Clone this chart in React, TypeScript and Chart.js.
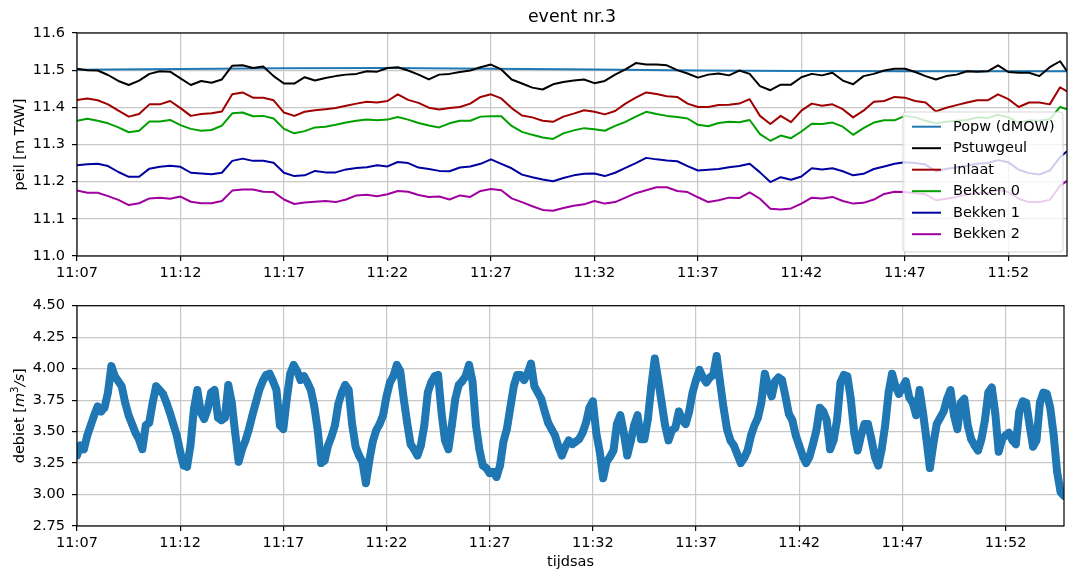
import { useEffect, useRef } from "react";
import { Chart, registerables } from "chart.js";
import type { Plugin } from "chart.js";

Chart.register(...registerables);

// ---------- tijdsas (seconden na 11:07:00) ----------
const TIJD_MAX = 2870;
const tijdTicks = [0, 300, 600, 900, 1200, 1500, 1800, 2100, 2400, 2700];
const tijdLabels = ["11:07", "11:12", "11:17", "11:22", "11:27", "11:32", "11:37", "11:42", "11:47", "11:52"];

// ---------- peil [m TAW] ----------
const peilTicks = [11.0, 11.1, 11.2, 11.3, 11.4, 11.5, 11.6];
const PEIL_STAP = 30; // één waarde per 30 s

const popwTijd = [0, 300, 600, 900, 1200, 1500, 1800, 2100, 2400, 2700, 2870];
const popw = [11.501, 11.503, 11.505, 11.506, 11.504, 11.502, 11.499, 11.498, 11.497, 11.497, 11.497];

const pstuwgeul = [
  11.504, 11.500, 11.499, 11.487, 11.471, 11.460, 11.472, 11.490, 11.497, 11.496,
  11.478, 11.460, 11.471, 11.466, 11.475, 11.512, 11.513, 11.506, 11.510, 11.484,
  11.464, 11.464, 11.481, 11.472, 11.479, 11.484, 11.488, 11.490, 11.497, 11.496,
  11.506, 11.508, 11.499, 11.488, 11.475, 11.488, 11.490, 11.495, 11.499, 11.508,
  11.515, 11.502, 11.475, 11.464, 11.453, 11.448, 11.462, 11.468, 11.472, 11.475,
  11.465, 11.471, 11.488, 11.502, 11.519, 11.515, 11.515, 11.513, 11.500, 11.491,
  11.480, 11.488, 11.491, 11.486, 11.499, 11.490, 11.457, 11.446, 11.461, 11.461,
  11.481, 11.490, 11.486, 11.493, 11.472, 11.462, 11.484, 11.490, 11.499, 11.504,
  11.504, 11.495, 11.484, 11.475, 11.484, 11.488, 11.497, 11.496, 11.497, 11.513,
  11.495, 11.493, 11.493, 11.484, 11.508, 11.524, 11.497,
];

const inlaat = [
  11.420, 11.424, 11.419, 11.408, 11.391, 11.375, 11.382, 11.408, 11.408, 11.417,
  11.398, 11.377, 11.382, 11.384, 11.389, 11.435, 11.440, 11.426, 11.426, 11.419,
  11.386, 11.377, 11.388, 11.392, 11.395, 11.398, 11.404, 11.410, 11.415, 11.413,
  11.417, 11.435, 11.420, 11.412, 11.399, 11.394, 11.398, 11.401, 11.410, 11.428,
  11.435, 11.424, 11.398, 11.378, 11.373, 11.364, 11.361, 11.375, 11.383, 11.392,
  11.388, 11.381, 11.390, 11.410, 11.426, 11.440, 11.436, 11.430, 11.428, 11.410,
  11.401, 11.401, 11.406, 11.407, 11.410, 11.422, 11.377, 11.355, 11.377, 11.360,
  11.391, 11.410, 11.404, 11.408, 11.395, 11.373, 11.391, 11.415, 11.417, 11.428,
  11.426, 11.417, 11.413, 11.389, 11.399, 11.406, 11.413, 11.419, 11.419, 11.435,
  11.422, 11.401, 11.413, 11.413, 11.408, 11.454, 11.443,
];

const bekken0 = [
  11.364, 11.369, 11.364, 11.357, 11.346, 11.333, 11.337, 11.362, 11.362, 11.366,
  11.352, 11.342, 11.337, 11.339, 11.351, 11.384, 11.386, 11.376, 11.377, 11.370,
  11.342, 11.330, 11.336, 11.346, 11.348, 11.353, 11.359, 11.364, 11.367, 11.365,
  11.367, 11.374, 11.367, 11.358, 11.351, 11.346, 11.357, 11.364, 11.364, 11.375,
  11.376, 11.376, 11.350, 11.334, 11.326, 11.319, 11.315, 11.330, 11.338, 11.344,
  11.341, 11.337, 11.350, 11.361, 11.375, 11.388, 11.382, 11.377, 11.374, 11.370,
  11.353, 11.349, 11.358, 11.361, 11.360, 11.366, 11.328, 11.310, 11.324, 11.317,
  11.335, 11.356, 11.355, 11.359, 11.348, 11.326, 11.344, 11.359, 11.365, 11.365,
  11.377, 11.373, 11.364, 11.357, 11.361, 11.364, 11.366, 11.373, 11.371, 11.380,
  11.373, 11.359, 11.365, 11.364, 11.368, 11.401, 11.395,
];

const bekken1 = [
  11.244, 11.247, 11.248, 11.242, 11.226, 11.213, 11.213, 11.235, 11.240, 11.243,
  11.240, 11.224, 11.222, 11.220, 11.224, 11.256, 11.262, 11.256, 11.256, 11.251,
  11.224, 11.215, 11.217, 11.229, 11.225, 11.225, 11.233, 11.237, 11.239, 11.244,
  11.241, 11.253, 11.250, 11.238, 11.234, 11.229, 11.228, 11.238, 11.241, 11.248,
  11.260, 11.248, 11.236, 11.219, 11.212, 11.206, 11.201, 11.210, 11.217, 11.221,
  11.222, 11.215, 11.224, 11.237, 11.250, 11.264, 11.260, 11.257, 11.255, 11.242,
  11.230, 11.232, 11.234, 11.239, 11.242, 11.248, 11.225, 11.199, 11.212, 11.205,
  11.214, 11.236, 11.233, 11.236, 11.228, 11.217, 11.221, 11.234, 11.241, 11.248,
  11.252, 11.250, 11.246, 11.228, 11.234, 11.239, 11.243, 11.248, 11.250, 11.258,
  11.252, 11.232, 11.223, 11.219, 11.230, 11.266, 11.282,
];

const bekken2 = [
  11.176, 11.170, 11.170, 11.161, 11.151, 11.137, 11.142, 11.155, 11.157, 11.154,
  11.160, 11.146, 11.142, 11.142, 11.148, 11.176, 11.179, 11.179, 11.173, 11.172,
  11.152, 11.140, 11.144, 11.146, 11.148, 11.145, 11.152, 11.163, 11.165, 11.161,
  11.166, 11.175, 11.173, 11.164, 11.159, 11.160, 11.152, 11.163, 11.159, 11.175,
  11.180, 11.177, 11.155, 11.145, 11.134, 11.124, 11.122, 11.129, 11.135, 11.139,
  11.148, 11.141, 11.145, 11.157, 11.169, 11.177, 11.185, 11.185, 11.175, 11.172,
  11.158, 11.145, 11.150, 11.157, 11.156, 11.171, 11.154, 11.127, 11.125, 11.128,
  11.141, 11.157, 11.155, 11.159, 11.148, 11.141, 11.143, 11.152, 11.167, 11.173,
  11.172, 11.169, 11.166, 11.150, 11.154, 11.159, 11.166, 11.169, 11.169, 11.178,
  11.172, 11.154, 11.145, 11.145, 11.151, 11.189, 11.202,
];

// ---------- debiet [m³/s] ----------
const debietTicks = [2.75, 3.0, 3.25, 3.5, 3.75, 4.0, 4.25, 4.5];
const DEBIET_STAP = 10; // één waarde per 10 s

const debiet = [
  3.31, 3.39, 3.36, 3.47, 3.55, 3.63, 3.70, 3.66, 3.69, 3.81, 4.02, 3.94,
  3.90, 3.86, 3.73, 3.63, 3.56, 3.49, 3.44, 3.36, 3.55, 3.57, 3.73, 3.86,
  3.83, 3.80, 3.73, 3.65, 3.56, 3.47, 3.34, 3.23, 3.22, 3.39, 3.68, 3.83,
  3.65, 3.60, 3.68, 3.81, 3.83, 3.61, 3.59, 3.61, 3.87, 3.73, 3.49, 3.26,
  3.36, 3.43, 3.52, 3.63, 3.73, 3.83, 3.90, 3.95, 3.96, 3.90, 3.83, 3.55,
  3.52, 3.76, 3.96, 4.03, 3.98, 3.91, 3.94, 3.89, 3.83, 3.70, 3.51, 3.25,
  3.27, 3.39, 3.46, 3.55, 3.72, 3.81, 3.87, 3.83, 3.56, 3.38, 3.31, 3.26,
  3.09, 3.27, 3.42, 3.51, 3.56, 3.63, 3.78, 3.89, 3.94, 4.03, 3.98, 3.76,
  3.57, 3.40, 3.36, 3.31, 3.39, 3.55, 3.81, 3.89, 3.94, 3.95, 3.65, 3.43,
  3.36, 3.55, 3.76, 3.87, 3.90, 3.94, 4.03, 3.90, 3.55, 3.36, 3.23, 3.21,
  3.17, 3.18, 3.14, 3.23, 3.42, 3.52, 3.69, 3.86, 3.95, 3.95, 3.91, 3.96,
  4.04, 3.86, 3.81, 3.76, 3.66, 3.57, 3.52, 3.47, 3.38, 3.31, 3.38, 3.43,
  3.40, 3.42, 3.44, 3.49, 3.57, 3.69, 3.74, 3.49, 3.34, 3.13, 3.26, 3.30,
  3.35, 3.56, 3.63, 3.49, 3.31, 3.42, 3.55, 3.63, 3.44, 3.44, 3.60, 3.86,
  4.08, 3.91, 3.73, 3.55, 3.43, 3.51, 3.53, 3.66, 3.59, 3.56, 3.66, 3.81,
  3.91, 3.99, 3.93, 3.89, 3.93, 3.95, 4.10, 3.89, 3.69, 3.52, 3.43, 3.39,
  3.32, 3.25, 3.29, 3.35, 3.47, 3.55, 3.61, 3.73, 3.96, 3.86, 3.78, 3.90,
  3.93, 3.91, 3.78, 3.64, 3.59, 3.47, 3.39, 3.31, 3.25, 3.30, 3.40, 3.51,
  3.69, 3.66, 3.59, 3.36, 3.43, 3.59, 3.89, 3.95, 3.94, 3.76, 3.49, 3.35,
  3.47, 3.56, 3.56, 3.44, 3.30, 3.23, 3.36, 3.55, 3.81, 3.96, 3.86, 3.80,
  3.85, 3.90, 3.77, 3.73, 3.63, 3.83, 3.65, 3.44, 3.21, 3.40, 3.56, 3.61,
  3.66, 3.76, 3.83, 3.63, 3.52, 3.73, 3.76, 3.55, 3.44, 3.39, 3.35, 3.44,
  3.59, 3.81, 3.85, 3.65, 3.34, 3.44, 3.47, 3.49, 3.43, 3.40, 3.66, 3.74,
  3.73, 3.55, 3.38, 3.43, 3.73, 3.81, 3.80, 3.69, 3.47, 3.18, 3.02, 2.99,
];

// ---------- opmaak ----------
const FONT = "'DejaVu Sans', 'Liberation Sans', sans-serif";
const FS = 14.5;
const GRID = "#c8c8c8";
const W = 1068;
const TOP_H = 290;
const BOT_H = 286;
const AS_LINKS = 77;
const DEBIET_KLEUR = "#1f77b4";

const peilTijd = pstuwgeul.map((_, i) => Math.min(i * PEIL_STAP, TIJD_MAX));
const debietTijd = debiet.map((_, k) => k * DEBIET_STAP);

const reeksen = [
  { label: "Popw (dMOW)", tijd: popwTijd, waarden: popw, kleur: "#1f77b4" },
  { label: "Pstuwgeul", tijd: peilTijd, waarden: pstuwgeul, kleur: "#000000" },
  { label: "Inlaat", tijd: peilTijd, waarden: inlaat, kleur: "#a00000" },
  { label: "Bekken 0", tijd: peilTijd, waarden: bekken0, kleur: "#00a000" },
  { label: "Bekken 1", tijd: peilTijd, waarden: bekken1, kleur: "#0000a0" },
  { label: "Bekken 2", tijd: peilTijd, waarden: bekken2, kleur: "#a000a0" },
];

const rasterOpties = {
  color: GRID,
  lineWidth: 1.2,
  drawTicks: true,
  tickLength: 5,
  tickColor: "#000",
  tickWidth: 1.2,
};

function tijdAs(hoogte: number) {
  return {
    type: "linear" as const,
    min: 0,
    max: TIJD_MAX,
    afterBuildTicks: (s: any) => {
      s.ticks = tijdTicks.map((value) => ({ value }));
    },
    afterFit: (s: any) => {
      s.height = hoogte;
    },
    border: { display: false },
    grid: rasterOpties,
    ticks: {
      autoSkip: false,
      maxRotation: 0,
      minRotation: 0,
      padding: 4,
      color: "#000",
      font: { family: FONT, size: FS },
      callback: (v: any) => {
        const i = tijdTicks.indexOf(Number(v));
        return i >= 0 ? tijdLabels[i] : "";
      },
    },
  };
}

function waardeAs(min: number, max: number, ticks: number[], dec: number) {
  return {
    type: "linear" as const,
    min,
    max,
    afterBuildTicks: (s: any) => {
      s.ticks = ticks.map((value) => ({ value }));
    },
    afterFit: (s: any) => {
      s.width = AS_LINKS;
    },
    border: { display: false },
    grid: rasterOpties,
    ticks: {
      padding: 7,
      color: "#000",
      font: { family: FONT, size: FS },
      callback: (v: any) => Number(v).toFixed(dec),
    },
  };
}

// assenkader rond het plotgebied
const kaderPlugin: Plugin = {
  id: "kader",
  afterDatasetsDraw(chart) {
    const { left, top, right, bottom } = chart.chartArea;
    const ctx = chart.ctx;
    ctx.save();
    ctx.strokeStyle = "#000";
    ctx.lineWidth = 1.2;
    ctx.strokeRect(left, top, right - left, bottom - top);
    ctx.restore();
  },
};

function afgerondeRechthoek(ctx: CanvasRenderingContext2D, x0: number, y0: number, x1: number, y1: number, r: number) {
  ctx.beginPath();
  ctx.moveTo(x0 + r, y0);
  ctx.lineTo(x1 - r, y0);
  ctx.arcTo(x1, y0, x1, y0 + r, r);
  ctx.lineTo(x1, y1 - r);
  ctx.arcTo(x1, y1, x1 - r, y1, r);
  ctx.lineTo(x0 + r, y1);
  ctx.arcTo(x0, y1, x0, y1 - r, r);
  ctx.lineTo(x0, y0 + r);
  ctx.arcTo(x0, y0, x0 + r, y0, r);
  ctx.closePath();
}

// legende rechtsonder in het bovenste paneel
const legendePlugin: Plugin = {
  id: "legende",
  afterDatasetsDraw(chart) {
    const ctx = chart.ctx;
    const { right, bottom } = chart.chartArea;
    const x1 = right - 4;
    const x0 = x1 - 160;
    const y1 = bottom - 4;
    const y0 = y1 - 140;
    ctx.save();
    afgerondeRechthoek(ctx, x0, y0, x1, y1, 3);
    ctx.fillStyle = "rgba(255,255,255,0.8)";
    ctx.fill();
    ctx.strokeStyle = "rgba(204,204,204,0.8)";
    ctx.lineWidth = 1;
    ctx.stroke();
    ctx.font = `${FS}px ${FONT}`;
    ctx.textAlign = "left";
    ctx.textBaseline = "middle";
    chart.data.datasets.forEach((ds: any, i: number) => {
      const y = y0 + 14.7 + i * 21.5;
      ctx.strokeStyle = ds.borderColor;
      ctx.lineWidth = 2;
      ctx.beginPath();
      ctx.moveTo(x0 + 9, y);
      ctx.lineTo(x0 + 38, y);
      ctx.stroke();
      ctx.fillStyle = "#000";
      ctx.fillText(ds.label, x0 + 50, y + 0.5);
    });
    ctx.restore();
  },
};

const bovenTekstPlugin: Plugin = {
  id: "bovenTekst",
  afterDraw(chart) {
    const ctx = chart.ctx;
    const { left, right, top, bottom } = chart.chartArea;
    ctx.save();
    ctx.fillStyle = "#000";
    ctx.textAlign = "center";
    ctx.textBaseline = "alphabetic";
    ctx.font = `17.4px ${FONT}`;
    ctx.fillText("event nr.3", (left + right) / 2, 22);
    ctx.font = `${FS}px ${FONT}`;
    ctx.translate(23.5, (top + bottom) / 2);
    ctx.rotate(-Math.PI / 2);
    ctx.fillText("peil [m TAW]", 0, 0);
    ctx.restore();
  },
};

const onderTekstPlugin: Plugin = {
  id: "onderTekst",
  afterDraw(chart) {
    const ctx = chart.ctx;
    const { left, right, top, bottom } = chart.chartArea;
    ctx.save();
    ctx.fillStyle = "#000";
    ctx.textBaseline = "alphabetic";
    ctx.textAlign = "center";
    ctx.font = `${FS}px ${FONT}`;
    ctx.fillText("tijdsas", (left + right) / 2, 276);

    const delen = [
      { t: "debiet [", f: `${FS}px ${FONT}`, dy: 0 },
      { t: "m", f: `italic ${FS}px ${FONT}`, dy: 0 },
      { t: "3", f: `10.2px ${FONT}`, dy: -6 },
      { t: "/s", f: `italic ${FS}px ${FONT}`, dy: 0 },
      { t: "]", f: `${FS}px ${FONT}`, dy: 0 },
    ];
    let totaal = 0;
    const breedtes = delen.map((d) => {
      ctx.font = d.f;
      const w = ctx.measureText(d.t).width;
      totaal += w;
      return w;
    });
    ctx.translate(23.5, (top + bottom) / 2);
    ctx.rotate(-Math.PI / 2);
    ctx.textAlign = "left";
    let x = -totaal / 2;
    delen.forEach((d, i) => {
      ctx.font = d.f;
      ctx.fillText(d.t, x, d.dy);
      x += breedtes[i];
    });
    ctx.restore();
  },
};

export default function App() {
  const bovenRef = useRef<HTMLCanvasElement>(null);
  const onderRef = useRef<HTMLCanvasElement>(null);

  useEffect(() => {
    const boven = new Chart(bovenRef.current!, {
      type: "line",
      data: {
        datasets: reeksen.map((r, i) => ({
          label: r.label,
          data: r.waarden.map((y, j) => ({ x: r.tijd[j], y })),
          borderColor: r.kleur,
          backgroundColor: r.kleur,
          borderWidth: 2,
          borderJoinStyle: "round" as const,
          pointRadius: 0,
          tension: 0,
          fill: false,
          order: reeksen.length - 1 - i,
        })),
      },
      options: {
        animation: false,
        responsive: false,
        maintainAspectRatio: false,
        devicePixelRatio: 1,
        events: [],
        layout: { padding: { top: 33, right: 1, left: 0, bottom: 0 } },
        plugins: { legend: { display: false }, tooltip: { enabled: false }, title: { display: false } },
        scales: {
          x: tijdAs(TOP_H - 256),
          y: waardeAs(11.0, 11.6, peilTicks, 1),
        },
      },
      plugins: [kaderPlugin, legendePlugin, bovenTekstPlugin],
    });

    const onder = new Chart(onderRef.current!, {
      type: "scatter",
      data: {
        datasets: [
          {
            // dichte puntenwolk: punten plus een brede band ertussen
            label: "debiet",
            data: debiet.map((y, k) => ({ x: debietTijd[k], y })),
            backgroundColor: DEBIET_KLEUR,
            borderColor: DEBIET_KLEUR,
            pointBackgroundColor: DEBIET_KLEUR,
            pointBorderWidth: 0,
            borderWidth: 8,
            borderJoinStyle: "round" as const,
            borderCapStyle: "round" as const,
            pointRadius: 3.6,
            showLine: true,
            tension: 0,
          },
        ],
      },
      options: {
        animation: false,
        responsive: false,
        maintainAspectRatio: false,
        devicePixelRatio: 1,
        events: [],
        layout: { padding: { top: 11, right: 1, left: 0, bottom: 0 } },
        plugins: { legend: { display: false }, tooltip: { enabled: false }, title: { display: false } },
        scales: {
          x: tijdAs(50),
          y: waardeAs(2.75, 4.5, debietTicks, 2),
        },
      },
      plugins: [kaderPlugin, onderTekstPlugin],
    });

    return () => {
      boven.destroy();
      onder.destroy();
    };
  }, []);

  return (
    <div style={{ position: "absolute", left: 0, top: 0, width: W, height: TOP_H + BOT_H, background: "#fff" }}>
      <canvas
        ref={bovenRef}
        width={W}
        height={TOP_H}
        style={{ position: "absolute", left: 0, top: 0, width: W, height: TOP_H }}
      />
      <canvas
        ref={onderRef}
        width={W}
        height={BOT_H}
        style={{ position: "absolute", left: 0, top: TOP_H, width: W, height: BOT_H }}
      />
    </div>
  );
}
